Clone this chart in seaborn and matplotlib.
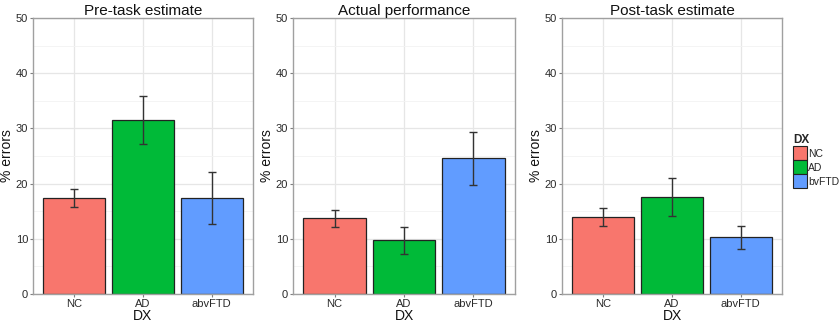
import pandas as pd
import seaborn as sns
import matplotlib.pyplot as plt
from matplotlib.patches import Patch
from matplotlib.ticker import MultipleLocator

groups = ["NC", "AD", "bvFTD"]
tick_labels = ["NC", "AD", "abvFTD"]
colors = ["#F8766D", "#00BA38", "#619CFF"]

panel_titles = ["Pre-task estimate", "Actual performance", "Post-task estimate"]
pre_mean = [17.4, 31.5, 17.4]
pre_low = [15.8, 27.2, 12.7]
pre_high = [19.0, 35.9, 22.1]
act_mean = [13.8, 9.8, 24.6]
act_low = [12.1, 7.3, 19.8]
act_high = [15.3, 12.2, 29.4]
post_mean = [13.9, 17.6, 10.4]
post_low = [12.3, 14.1, 8.2]
post_high = [15.5, 21.0, 12.4]

panels = [
    (pre_mean, pre_low, pre_high),
    (act_mean, act_low, act_high),
    (post_mean, post_low, post_high),
]

sns.set_theme(style="whitegrid")
plt.rcParams["font.family"] = ["Liberation Sans", "DejaVu Sans"]

fig = plt.figure(figsize=(8.39, 3.24), dpi=100)
W, H = 839, 324
boxes = [(33, 220), (293, 222), (562, 220)]
bottom_px, top_px = 294, 18

for (left, width), title, (mean, low, high) in zip(boxes, panel_titles, panels):
    ax = fig.add_axes([left / W, (H - bottom_px) / H, width / W, (bottom_px - top_px) / H])
    df = pd.DataFrame({"DX": groups, "errors": mean, "low": low, "high": high})
    sns.barplot(data=df, x="DX", y="errors", hue="DX", palette=colors,
                saturation=1, width=0.9, edgecolor="#222222", linewidth=0.9,
                legend=False, ax=ax, zorder=2)
    ax.errorbar(range(len(groups)), df["errors"],
                yerr=[df["errors"] - df["low"], df["high"] - df["errors"]],
                fmt="none", ecolor="#333333", elinewidth=1.0,
                capsize=3, capthick=1.0, zorder=3)
    ax.set_xlim(-0.6, 2.6)
    ax.set_ylim(0, 50)
    ax.yaxis.set_major_locator(MultipleLocator(10))
    ax.yaxis.set_minor_locator(MultipleLocator(5))
    ax.set_xticks(range(3))
    ax.set_xticklabels(tick_labels)
    ax.set_facecolor("white")
    ax.grid(True, which="major", color="#e6e6e6", linewidth=0.9, zorder=0)
    ax.grid(True, which="minor", axis="y", color="#f2f2f2", linewidth=0.6, zorder=0)
    ax.set_axisbelow(True)
    for sp in ax.spines.values():
        sp.set_color("#a0a0a0")
        sp.set_linewidth(1.0)
    ax.tick_params(axis="both", which="major", length=2.5, width=0.8, color="#7f7f7f",
                   labelsize=8, labelcolor="#2a2a2a", pad=1, bottom=True, left=True)
    ax.tick_params(axis="both", which="minor", length=0)
    ax.set_title(title, fontsize=11, pad=2, color="#111111")
    ax.set_xlabel("DX", fontsize=10, labelpad=0, color="#111111")
    ax.set_ylabel("% errors", fontsize=10, labelpad=1, color="#111111")

handles = [Patch(facecolor=c, edgecolor="#222222", linewidth=0.8, label=g)
           for g, c in zip(groups, colors)]
leg = fig.legend(handles=handles, title="DX", loc="upper left",
                 bbox_to_anchor=(786 / W, 1 - 127 / H), frameon=False,
                 fontsize=7.5, title_fontsize=8.5, handlelength=1.3, handleheight=1.7,
                 handletextpad=0.1, labelspacing=0.0, borderpad=0.2,
                 alignment="left")
leg.get_title().set_fontweight("bold")

fig.savefig("out.png", dpi=100)
